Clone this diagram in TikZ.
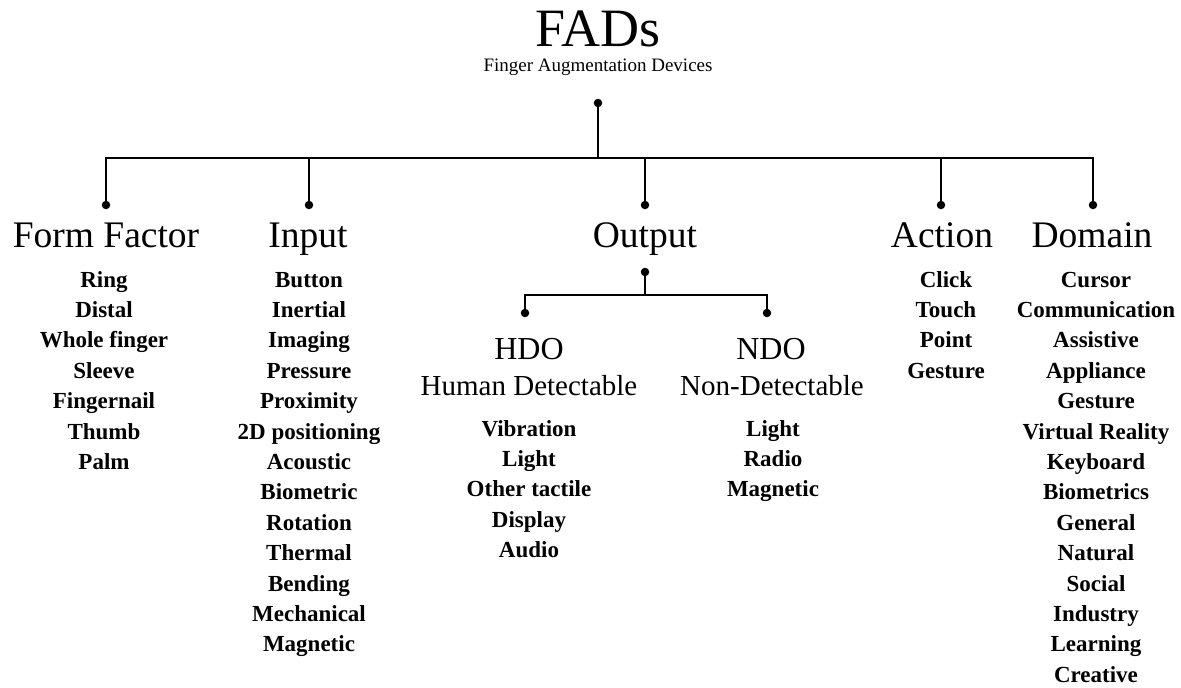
\documentclass[tikz,border=0pt]{standalone}
\usepackage{fontspec}
\setmainfont{Liberation Serif}
\usetikzlibrary{positioning}
\tikzset{
  titlenode/.style={anchor=base, inner sep=0pt, font=\fontsize{54}{60}\selectfont},
  subtitlenode/.style={anchor=base, inner sep=0pt, font=\fontsize{19}{22}\selectfont},
  catnode/.style={anchor=base, inner sep=0pt, font=\fontsize{37.5}{42}\selectfont},
  subcatnode/.style={anchor=base, inner sep=0pt, font=\fontsize{32}{36}\selectfont},
  subnamenode/.style={anchor=base, inner sep=0pt, font=\fontsize{29}{32}\selectfont},
  itemnode/.style={anchor=base, inner sep=0pt, font=\fontsize{23}{26}\selectfont\bfseries},
  dotnode/.style={circle, fill, inner sep=0pt, minimum size=8.5pt},
  branch/.style={line width=1.8pt},
}

\begin{document}
\begin{tikzpicture}[x=1pt, y=-1pt]
  \useasboundingbox (0,0) rectangle (1181,688);

  % root
  \node[titlenode] (fads) at (598,46) {FADs};
  \node[subtitlenode] (fadsname) at (598,71) {Finger Augmentation Devices};
  \node[dotnode] (dtop) at (598,103) {};
  \coordinate (bus) at (598,158);

  % top level
  \node[dotnode] (dff) at (106,205) {};
  \node[dotnode] (din) at (309,205) {};
  \node[dotnode] (dout) at (645,205) {};
  \node[dotnode] (dact) at (941,205) {};
  \node[dotnode] (ddom) at (1093,205) {};

  \node[catnode] (ff) at (106,247) {Form Factor};
  \node[catnode] (in) at (308,247) {Input};
  \node[catnode] (out) at (645,247) {Output};
  \node[catnode] (act) at (942,247) {Action};
  \node[catnode] (dom) at (1092,247) {Domain};

  \draw[branch] (dtop) -- (bus);
  \draw[branch] (dff) |- (bus) -| (ddom);
  \foreach \d in {din, dout, dact}
    \draw[branch] (\d) -- (\d |- bus);

  % output split
  \node[dotnode] (dsub) at (645,272) {};
  \coordinate (obus) at (645,295);
  \node[dotnode] (dhdo) at (525,313) {};
  \node[dotnode] (dndo) at (767,313) {};
  \draw[branch] (dsub) -- (obus);
  \draw[branch] (dhdo) |- (obus) -| (dndo);

  \node[subcatnode] (hdo) at (529,359) {HDO};
  \node[subnamenode] (hdoname) at (529,395) {Human Detectable};
  \node[subcatnode] (ndo) at (771,359) {NDO};
  \node[subnamenode] (ndoname) at (772,395) {Non-Detectable};

  % item lists
  \foreach \t [count=\i] in {Ring, Distal, Whole finger, Sleeve, Fingernail, Thumb, Palm}
    \node[itemnode] (ff\i) at (104,{287+30.4*(\i-1)}) {\t};
  \foreach \t [count=\i] in {Button, Inertial, Imaging, Pressure, Proximity, 2D positioning,
      Acoustic, Biometric, Rotation, Thermal, Bending, Mechanical, Magnetic}
    \node[itemnode] (in\i) at (309,{287+30.4*(\i-1)}) {\t};
  \foreach \t [count=\i] in {Vibration, Light, Other tactile, Display, Audio}
    \node[itemnode] (hdo\i) at (529,{436+30.4*(\i-1)}) {\t};
  \foreach \t [count=\i] in {Light, Radio, Magnetic}
    \node[itemnode] (ndo\i) at (773,{436+30.4*(\i-1)}) {\t};
  \foreach \t [count=\i] in {Click, Touch, Point, Gesture}
    \node[itemnode] (act\i) at (946,{287+30.4*(\i-1)}) {\t};
  \foreach \t [count=\i] in {Cursor, Communication, Assistive, Appliance, Gesture,
      Virtual Reality, Keyboard, Biometrics, General, Natural, Social, Industry,
      Learning, Creative}
    \node[itemnode] (dom\i) at (1096,{287+30.4*(\i-1)}) {\t};
\end{tikzpicture}
\end{document}
